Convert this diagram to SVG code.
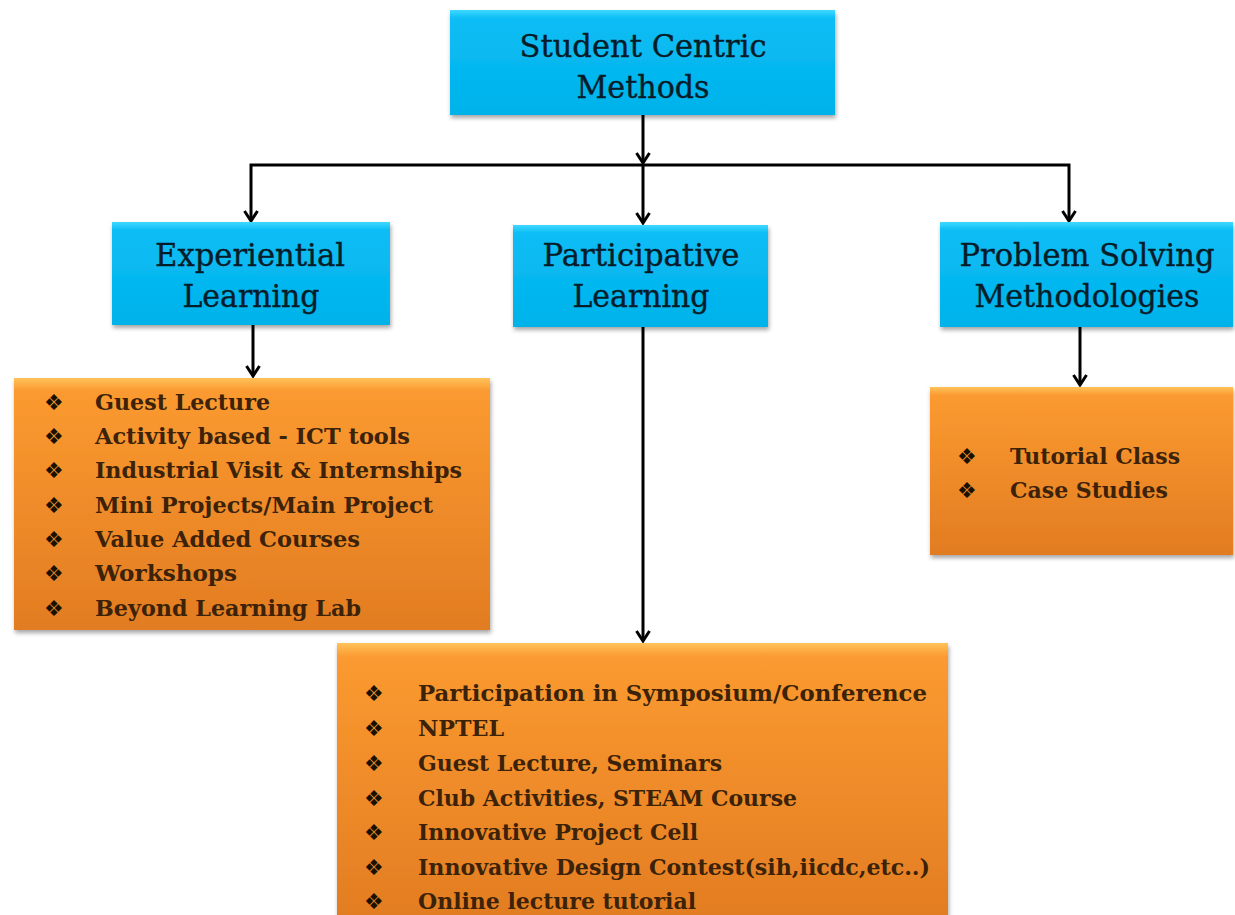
<svg xmlns="http://www.w3.org/2000/svg" width="1235" height="915" viewBox="0 0 1235 915">
<style>
.blue{fill:url(#gBlue);filter:url(#sh)}
.orange{fill:url(#gOrange);filter:url(#sh)}
.bt{font-family:"DejaVu Serif","Liberation Serif",serif;font-size:32px;fill:#061d29;text-anchor:middle;stroke:#061d29;stroke-width:0.4}
.ot{font-family:"DejaVu Serif","Liberation Serif",serif;font-size:23px;font-weight:bold;fill:#3b2208}
.bul{font-family:"DejaVu Sans",sans-serif;font-size:22px;fill:#1a1000}
.con{stroke:#000;stroke-width:3;fill:none}
</style>
<defs>
<linearGradient id="gBlue" x1="0" y1="0" x2="0" y2="1">
<stop offset="0" stop-color="#3fd8ff"/>
<stop offset="0.08" stop-color="#0cbdf5"/>
<stop offset="1" stop-color="#00b2ea"/>
</linearGradient>
<linearGradient id="gOrange" x1="0" y1="0" x2="0" y2="1">
<stop offset="0" stop-color="#ffc25a"/>
<stop offset="0.05" stop-color="#fb9a30"/>
<stop offset="1" stop-color="#e27c22"/>
</linearGradient>
<filter id="sh" x="-5%" y="-5%" width="110%" height="115%">
<feDropShadow dx="1" dy="3" stdDeviation="2" flood-color="#000" flood-opacity="0.35"/>
</filter>
<marker id="arr" viewBox="0 0 16 16" refX="14" refY="8" markerWidth="16" markerHeight="16" markerUnits="userSpaceOnUse" orient="auto-start-reverse">
<path d="M4,1.5 L14,8 L4,14.5" fill="none" stroke="#000" stroke-width="3"/>
</marker>
</defs>
<g id="connectors">
<line class="con" x1="643" y1="115" x2="643" y2="163" marker-end="url(#arr)"/>
<polyline class="con" points="251,221 251,165 1069,165 1069,221" marker-start="url(#arr)" marker-end="url(#arr)"/>
<line class="con" x1="643" y1="165" x2="643" y2="223" marker-end="url(#arr)"/>
<line class="con" x1="253" y1="325" x2="253" y2="376" marker-end="url(#arr)"/>
<line class="con" x1="643" y1="327" x2="643" y2="641" marker-end="url(#arr)"/>
<line class="con" x1="1080" y1="327" x2="1080" y2="385" marker-end="url(#arr)"/>
</g>
<g id="node-root">
<rect class="blue" x="450" y="10" width="385" height="105"/>
<text class="bt" x="643" y="57" textLength="247" lengthAdjust="spacingAndGlyphs">Student Centric</text>
<text class="bt" x="643" y="98" textLength="133" lengthAdjust="spacingAndGlyphs">Methods</text>
</g>
<g id="node-experiential">
<rect class="blue" x="112" y="222" width="278" height="103"/>
<text class="bt" x="250" y="266" textLength="190" lengthAdjust="spacingAndGlyphs">Experiential</text>
<text class="bt" x="251" y="307" textLength="137" lengthAdjust="spacingAndGlyphs">Learning</text>
</g>
<g id="node-participative">
<rect class="blue" x="513" y="225" width="255" height="102"/>
<text class="bt" x="641" y="266" textLength="197" lengthAdjust="spacingAndGlyphs">Participative</text>
<text class="bt" x="641" y="307" textLength="137" lengthAdjust="spacingAndGlyphs">Learning</text>
</g>
<g id="node-problem">
<rect class="blue" x="940" y="222" width="293" height="105"/>
<text class="bt" x="1087" y="266" textLength="255" lengthAdjust="spacingAndGlyphs">Problem Solving</text>
<text class="bt" x="1087" y="307" textLength="225" lengthAdjust="spacingAndGlyphs">Methodologies</text>
</g>
<g id="node-experiential-list">
<rect class="orange" x="14" y="378" width="476" height="252"/>
<g class="bul">
<text x="44" y="410">❖</text><text x="44" y="444">❖</text><text x="44" y="478">❖</text><text x="44" y="513">❖</text><text x="44" y="547">❖</text><text x="44" y="581">❖</text><text x="44" y="616">❖</text>
</g>
<text class="ot" x="95" y="410" textLength="175" lengthAdjust="spacingAndGlyphs">Guest Lecture</text>
<text class="ot" x="95" y="444" textLength="315" lengthAdjust="spacingAndGlyphs">Activity based - ICT tools</text>
<text class="ot" x="95" y="478" textLength="367" lengthAdjust="spacingAndGlyphs">Industrial Visit &amp; Internships</text>
<text class="ot" x="95" y="513" textLength="338" lengthAdjust="spacingAndGlyphs">Mini Projects/Main Project</text>
<text class="ot" x="95" y="547" textLength="265" lengthAdjust="spacingAndGlyphs">Value Added Courses</text>
<text class="ot" x="95" y="581" textLength="142" lengthAdjust="spacingAndGlyphs">Workshops</text>
<text class="ot" x="95" y="616" textLength="266" lengthAdjust="spacingAndGlyphs">Beyond Learning Lab</text>
</g>
<g id="node-participative-list">
<rect class="orange" x="337" y="643" width="611" height="280"/>
<g class="bul">
<text x="364" y="701">❖</text><text x="364" y="736">❖</text><text x="364" y="771">❖</text><text x="364" y="806">❖</text><text x="364" y="840">❖</text><text x="364" y="875">❖</text><text x="364" y="909">❖</text>
</g>
<text class="ot" x="418" y="701" textLength="509" lengthAdjust="spacingAndGlyphs">Participation in Symposium/Conference</text>
<text class="ot" x="418" y="736" textLength="86" lengthAdjust="spacingAndGlyphs">NPTEL</text>
<text class="ot" x="418" y="771" textLength="304" lengthAdjust="spacingAndGlyphs">Guest Lecture, Seminars</text>
<text class="ot" x="418" y="806" textLength="379" lengthAdjust="spacingAndGlyphs">Club Activities, STEAM Course</text>
<text class="ot" x="418" y="840" textLength="280" lengthAdjust="spacingAndGlyphs">Innovative Project Cell</text>
<text class="ot" x="418" y="875" textLength="512" lengthAdjust="spacingAndGlyphs">Innovative Design Contest(sih,iicdc,etc..)</text>
<text class="ot" x="418" y="909" textLength="278" lengthAdjust="spacingAndGlyphs">Online lecture tutorial</text>
</g>
<g id="node-problem-list">
<rect class="orange" x="930" y="387" width="303" height="168"/>
<g class="bul">
<text x="957" y="464">❖</text><text x="957" y="498">❖</text>
</g>
<text class="ot" x="1010" y="464" textLength="170" lengthAdjust="spacingAndGlyphs">Tutorial Class</text>
<text class="ot" x="1010" y="498" textLength="158" lengthAdjust="spacingAndGlyphs">Case Studies</text>
</g>
</svg>
